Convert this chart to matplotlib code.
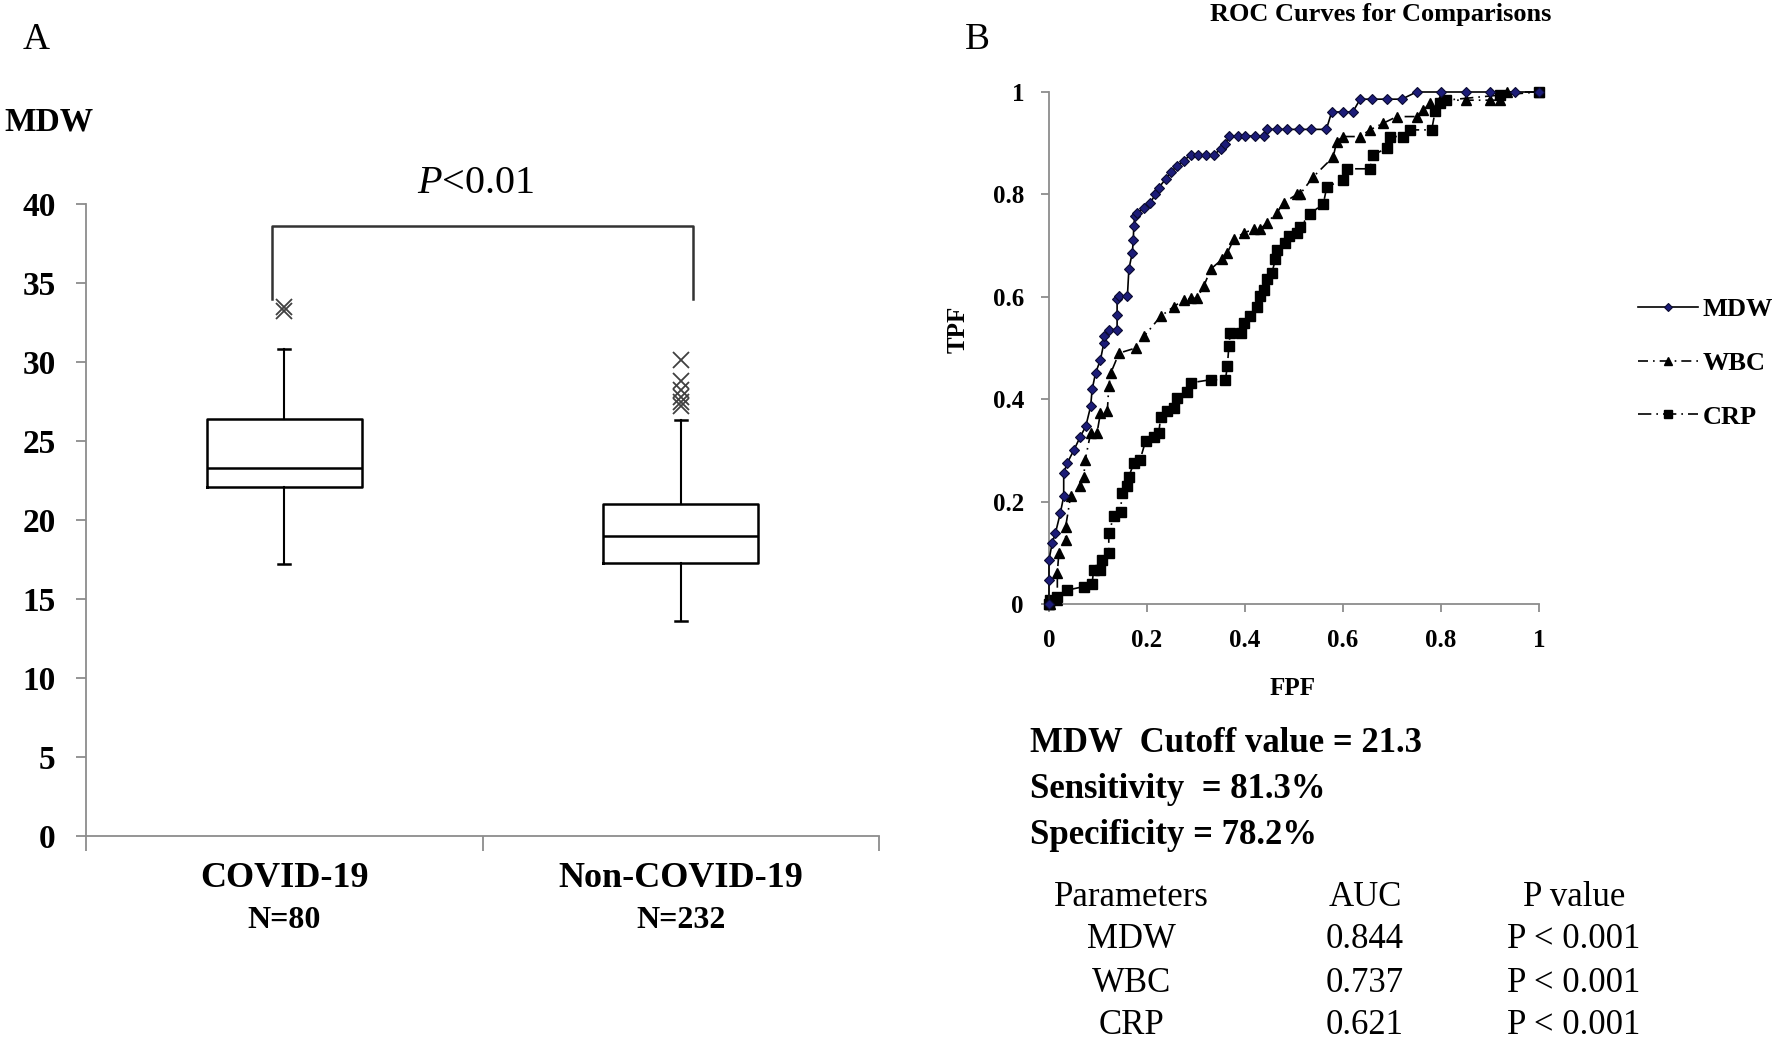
import matplotlib
matplotlib.use("Agg")
import matplotlib.pyplot as plt

plt.rcParams['font.family'] = ['Liberation Serif', 'DejaVu Serif']
plt.rcParams['mathtext.fontset'] = 'custom'
plt.rcParams['mathtext.rm'] = 'Liberation Serif'
plt.rcParams['mathtext.it'] = 'Liberation Serif:italic'

W, H = 1778, 1042
AXIS_GREY = '#8c8c8c'

# ---- panel A: MDW box plot ----
groups = ['COVID-19', 'Non-COVID-19']
group_n = ['N=80', 'N=232']
box_q1 = [22.1, 17.3]
box_med = [23.3, 19.0]
box_q3 = [26.4, 21.0]
box_whislo = [17.2, 13.6]
box_whishi = [30.8, 26.3]
box_fliers = [[33.2, 33.5], [30.1, 28.8, 28.2, 27.8, 27.5, 27.2]]
p_text = r'$\it{P}$<0.01'

# ---- panel B: ROC curves (FPF, TPF) ----
mdw_fpf = [0, 0, 0, 0.0065, 0.013, 0.023, 0.030, 0.030, 0.037, 0.051, 0.064, 0.075,
           0.085, 0.088, 0.095, 0.105, 0.112, 0.112, 0.122, 0.139, 0.139, 0.139, 0.143,
           0.160, 0.163, 0.170, 0.172, 0.173, 0.175, 0.180, 0.194, 0.207, 0.217, 0.224,
           0.238, 0.248, 0.262, 0.275, 0.289, 0.305, 0.320, 0.336, 0.350, 0.360, 0.367,
           0.385, 0.400, 0.420, 0.438, 0.445, 0.465, 0.485, 0.510, 0.534, 0.566, 0.577,
           0.600, 0.620, 0.635, 0.660, 0.690, 0.720, 0.750, 0.800, 0.850, 0.900, 0.950, 1.0]
mdw_tpf = [0, 0.047, 0.086, 0.119, 0.138, 0.177, 0.210, 0.255, 0.275, 0.301, 0.327, 0.347,
           0.386, 0.419, 0.451, 0.477, 0.510, 0.523, 0.536, 0.536, 0.565, 0.595, 0.601,
           0.601, 0.654, 0.686, 0.710, 0.738, 0.757, 0.763, 0.774, 0.784, 0.800, 0.813,
           0.830, 0.843, 0.856, 0.866, 0.877, 0.877, 0.877, 0.877, 0.888, 0.898, 0.914,
           0.914, 0.914, 0.914, 0.914, 0.927, 0.927, 0.927, 0.927, 0.927, 0.927, 0.961,
           0.961, 0.961, 0.986, 0.986, 0.986, 0.986, 1.0, 1.0, 1.0, 1.0, 1.0, 1.0]

wbc_fpf = [0, 0.003, 0.017, 0.017, 0.020, 0.034, 0.034, 0.044, 0.064, 0.071, 0.074, 0.085,
           0.098, 0.105, 0.119, 0.122, 0.126, 0.143, 0.177, 0.194, 0.228, 0.255, 0.275,
           0.289, 0.302, 0.316, 0.330, 0.353, 0.364, 0.377, 0.398, 0.418, 0.431, 0.445,
           0.465, 0.479, 0.506, 0.512, 0.539, 0.580, 0.587, 0.600, 0.635, 0.655, 0.682,
           0.710, 0.750, 0.764, 0.778, 0.798, 0.850, 0.900, 0.920, 0.934, 1.0]
wbc_tpf = [0, 0, 0.008, 0.060, 0.099, 0.125, 0.151, 0.210, 0.230, 0.249, 0.282, 0.334,
           0.334, 0.373, 0.376, 0.425, 0.451, 0.490, 0.500, 0.523, 0.562, 0.581, 0.594,
           0.597, 0.597, 0.621, 0.654, 0.673, 0.686, 0.712, 0.725, 0.732, 0.732, 0.745,
           0.764, 0.784, 0.800, 0.800, 0.834, 0.873, 0.903, 0.913, 0.913, 0.926, 0.939,
           0.952, 0.952, 0.965, 0.978, 0.984, 0.984, 0.984, 0.984, 1.0, 1.0]

crp_fpf = [0, 0.003, 0.017, 0.037, 0.071, 0.088, 0.091, 0.105, 0.109, 0.122, 0.122, 0.132,
           0.146, 0.149, 0.160, 0.163, 0.173, 0.186, 0.197, 0.214, 0.224, 0.228, 0.241,
           0.255, 0.262, 0.282, 0.289, 0.330, 0.360, 0.364, 0.367, 0.370, 0.391, 0.398,
           0.411, 0.425, 0.431, 0.438, 0.445, 0.455, 0.462, 0.465, 0.482, 0.489, 0.506,
           0.512, 0.533, 0.560, 0.567, 0.600, 0.608, 0.655, 0.661, 0.689, 0.696, 0.723,
           0.737, 0.781, 0.788, 0.798, 0.810, 0.920, 1.0]
crp_tpf = [0, 0.008, 0.014, 0.027, 0.034, 0.040, 0.066, 0.066, 0.086, 0.099, 0.138, 0.171,
           0.180, 0.216, 0.230, 0.249, 0.275, 0.282, 0.318, 0.327, 0.334, 0.366, 0.376,
           0.382, 0.402, 0.415, 0.432, 0.438, 0.438, 0.464, 0.503, 0.530, 0.530, 0.549,
           0.562, 0.581, 0.601, 0.614, 0.634, 0.647, 0.673, 0.692, 0.705, 0.718, 0.725,
           0.736, 0.762, 0.782, 0.815, 0.828, 0.850, 0.850, 0.877, 0.890, 0.913, 0.913,
           0.926, 0.926, 0.962, 0.978, 0.984, 0.994, 1.0]

stats_lines = ['MDW  Cutoff value = 21.3', 'Sensitivity  = 81.3%', 'Specificity = 78.2%']
table_header = ['Parameters', 'AUC', 'P value']
table_params = ['MDW', 'WBC', 'CRP']
table_auc = ['0.844', '0.737', '0.621']
table_p = ['P < 0.001', 'P < 0.001', 'P < 0.001']


def fx(px):
    return px / W


def fy(py):
    return 1 - py / H


fig = plt.figure(figsize=(W / 100, H / 100), dpi=100)

# panel A
ax_a = fig.add_axes([fx(86), fy(836), fx(879) - fx(86), fy(204) - fy(836)])
stats = []
for i in range(len(groups)):
    stats.append(dict(q1=box_q1[i], med=box_med[i], q3=box_q3[i],
                      whislo=box_whislo[i], whishi=box_whishi[i],
                      fliers=box_fliers[i], label=groups[i]))
ax_a.bxp(stats, positions=[1, 2], widths=0.39, capwidths=0.03,
         boxprops=dict(color='black', linewidth=1.8),
         medianprops=dict(color='black', linewidth=1.8),
         whiskerprops=dict(color='black', linewidth=1.5),
         capprops=dict(color='black', linewidth=1.8),
         flierprops=dict(marker='x', markeredgecolor='#404040', markersize=11,
                         markeredgewidth=1.3, linestyle='none'))
ax_a.set_xlim(0.5, 2.5)
ax_a.set_ylim(0, 40)
ax_a.set_yticks(range(0, 41, 5))
ax_a.set_xticks([0.5, 1.5, 2.5])
ax_a.set_xticklabels(['', '', ''])
for s in ['top', 'right']:
    ax_a.spines[s].set_visible(False)
for s in ['left', 'bottom']:
    ax_a.spines[s].set_color(AXIS_GREY)
    ax_a.spines[s].set_linewidth(1.3)
ax_a.tick_params(axis='y', colors=AXIS_GREY, length=7, width=1.3, pad=15,
                 labelcolor='black', labelsize=24)
ax_a.tick_params(axis='x', colors=AXIS_GREY, length=11, width=1.3)
for lab in ax_a.get_yticklabels():
    lab.set_fontweight('bold')

xt = ax_a.get_xaxis_transform()
for i in range(len(groups)):
    ax_a.text(i + 1, -0.068, groups[i], transform=xt, ha='center', va='center',
              fontsize=26, fontweight='bold')
    ax_a.text(i + 1, -0.133, group_n[i], transform=xt, ha='center', va='center',
              fontsize=23, fontweight='bold')

# significance bracket
ax_a.plot([0.97, 0.97, 2.03, 2.03], [34.0, 38.6, 38.6, 34.0], color='#333333',
          linewidth=1.8, clip_on=False)
ax_a.text(1.484, 41.3, p_text, ha='center', va='center', fontsize=29)

fig.text(fx(49), fy(122), 'MDW', ha='center', va='center', fontsize=24, fontweight='bold')
fig.text(fx(36), fy(40), 'A', ha='center', va='center', fontsize=27)

# panel B
ax_b = fig.add_axes([fx(1049), fy(604), fx(1539) - fx(1049), fy(92) - fy(604)])
ax_b.plot(mdw_fpf, mdw_tpf, color='black', linewidth=1.2, marker='D', markersize=5,
          markerfacecolor='#1c1c78', markeredgecolor='#0a0a30', markeredgewidth=0.8,
          clip_on=False, label='MDW', zorder=4)
ax_b.plot(wbc_fpf, wbc_tpf, color='black', linewidth=1.2, linestyle=(0, (6, 3, 1, 3)),
          marker='^', markersize=6.5, markerfacecolor='black', markeredgecolor='black',
          clip_on=False, label='WBC', zorder=3)
ax_b.plot(crp_fpf, crp_tpf, color='black', linewidth=1.2, linestyle=(0, (8, 3, 1, 3)),
          marker='s', markersize=7, markerfacecolor='black', markeredgecolor='black',
          clip_on=False, label='CRP', zorder=2)
ax_b.set_xlim(0, 1)
ax_b.set_ylim(0, 1)
ticks = [0, 0.2, 0.4, 0.6, 0.8, 1]
tick_labels = ['0', '0.2', '0.4', '0.6', '0.8', '1']
ax_b.set_xticks(ticks)
ax_b.set_xticklabels(tick_labels)
ax_b.set_yticks(ticks)
ax_b.set_yticklabels(tick_labels)
for s in ['top', 'right']:
    ax_b.spines[s].set_visible(False)
for s in ['left', 'bottom']:
    ax_b.spines[s].set_color(AXIS_GREY)
    ax_b.spines[s].set_linewidth(1.3)
ax_b.tick_params(axis='both', colors=AXIS_GREY, length=6, width=1.3, pad=12,
                 labelcolor='black', labelsize=18)
for lab in ax_b.get_xticklabels() + ax_b.get_yticklabels():
    lab.set_fontweight('bold')
ax_b.set_xlabel('FPF', fontsize=18, fontweight='bold')
ax_b.set_ylabel('TPF', fontsize=18, fontweight='bold')
ax_b.xaxis.set_label_coords(0.498, -0.143)
ax_b.yaxis.set_label_coords(-0.161, 0.537)

leg = fig.legend(handles=ax_b.get_lines(), loc='center left',
                 bbox_to_anchor=(fx(1625), fy(363)), frameon=False, borderpad=0,
                 handlelength=2.25, handletextpad=0.2, labelspacing=1.15,
                 prop=dict(size=19, weight='bold'), markerscale=0.8)

fig.text(fx(1381), fy(14), 'ROC Curves for Comparisons', ha='center', va='center',
         fontsize=19, fontweight='bold')
fig.text(fx(977), fy(40), 'B', ha='center', va='center', fontsize=27)

stat_y = [744, 790, 835]
for line, py in zip(stats_lines, stat_y):
    fig.text(fx(1030), fy(py), line, ha='left', va='center', fontsize=25, fontweight='bold')

col_x = [1131, 1365, 1574]
fig.text(fx(col_x[0]), fy(897), table_header[0], ha='center', va='center', fontsize=25)
fig.text(fx(col_x[1]), fy(897), table_header[1], ha='center', va='center', fontsize=25)
fig.text(fx(col_x[2]), fy(897), table_header[2], ha='center', va='center', fontsize=25)
row_y = [940, 983, 1026]
for i, py in enumerate(row_y):
    fig.text(fx(col_x[0]), fy(py), table_params[i], ha='center', va='center', fontsize=25)
    fig.text(fx(col_x[1]), fy(py), table_auc[i], ha='center', va='center', fontsize=25)
    fig.text(fx(col_x[2]), fy(py), table_p[i], ha='center', va='center', fontsize=25)

fig.savefig('out.png', dpi=100)
